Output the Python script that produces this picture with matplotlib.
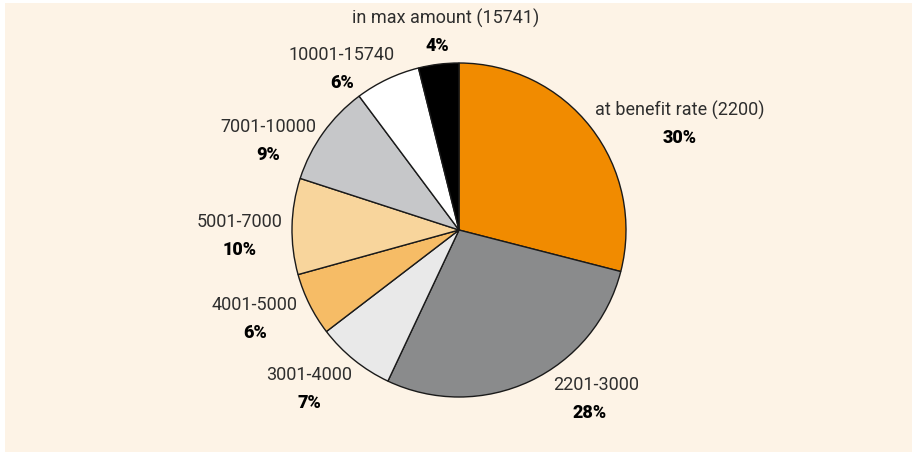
import matplotlib
matplotlib.use("Agg")
import matplotlib.pyplot as plt
from matplotlib.patches import Rectangle

categories = ["at benefit rate (2200)", "2201-3000", "3001-4000", "4001-5000",
              "5001-7000", "7001-10000", "10001-15740", "in max amount (15741)"]
shares = [29.0, 28.0, 7.6, 6.1, 9.3, 9.8, 6.3, 3.9]
pct_labels = ["30%", "28%", "7%", "6%", "10%", "9%", "6%", "4%"]
colors = ["#f18b00", "#8a8b8c", "#e9e9e9", "#f6bc66", "#f8d59c", "#c6c7c9", "#ffffff", "#000000"]

# label anchor positions (pixel coords in the 913x454 image: centre x, y of the category line)
label_pos = [(680, 110), (596, 385), (309, 375), (255, 305),
             (240, 222), (268, 127), (342, 55), (446, 18)]
pct_dx = [0, -6, 0, 0, 0, 0, 0, -9]

fam = "Roboto"

W, H = 913, 454
CX, CY, R = 459, 230, 167

fig = plt.figure(figsize=(W / 100, H / 100), dpi=100)
fig.patch.set_facecolor("white")
ax = fig.add_axes([0, 0, 1, 1])

def px(x, y):
    return (x - CX) / R, (CY - y) / R

x0, y0 = px(5, 452)
x1, y1 = px(912, 3)
ax.add_patch(Rectangle((x0, y0), x1 - x0, y1 - y0, facecolor="#fdf3e6", edgecolor="none", zorder=0))

ax.pie(shares, colors=colors, startangle=90, counterclock=False, radius=1.0,
       wedgeprops=dict(edgecolor="#1a1a1a", linewidth=1.0), center=(0, 0))
ax.set_xlim(-CX / R, (W - CX) / R)
ax.set_ylim((CY - H) / R, CY / R)
ax.set_aspect("equal")
ax.axis("off")

for cat, pct, (lx, ly), dx in zip(categories, pct_labels, label_pos, pct_dx):
    ax.text(*px(lx, ly), cat, ha="center", va="center", fontsize=13,
            family=fam, fontweight="normal", color="#2e2e2e", zorder=5)
    ax.text(*px(lx + dx, ly + 28), pct, ha="center", va="center", fontsize=13,
            family=fam, fontweight="heavy", color="#000000", zorder=5)

fig.savefig("out.png", dpi=100, facecolor="white")
